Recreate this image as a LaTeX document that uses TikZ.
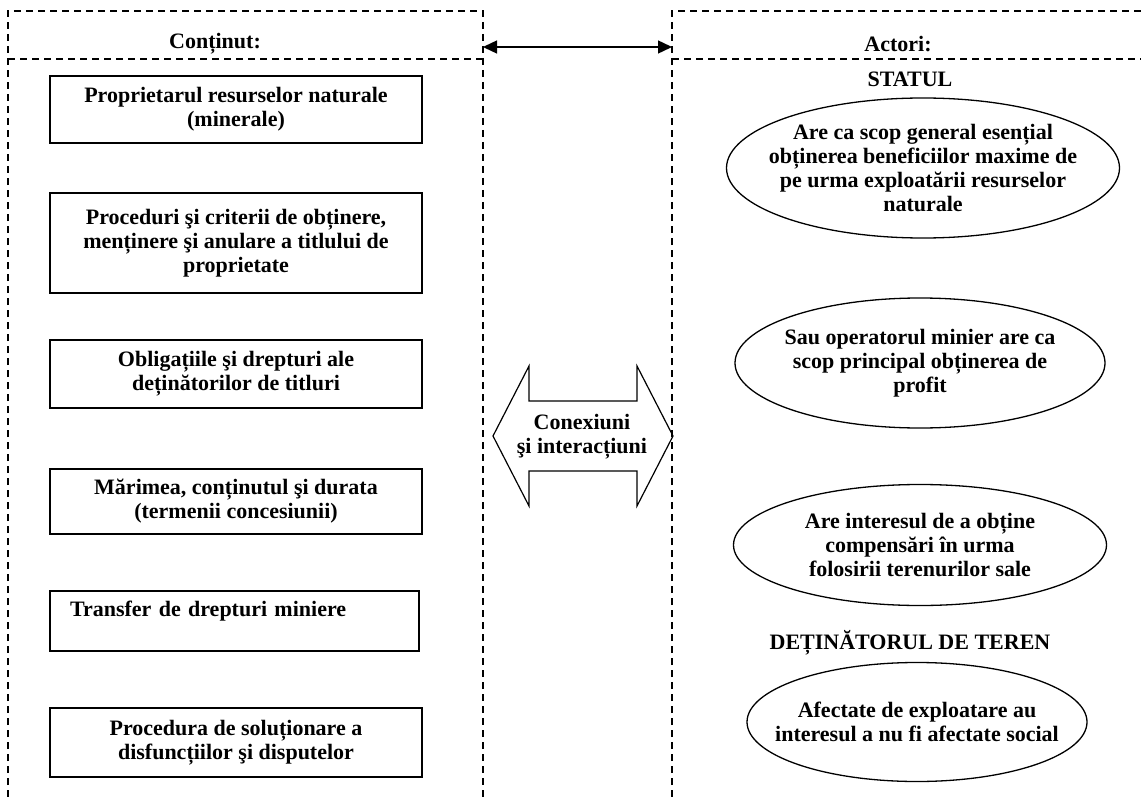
\documentclass[tikz,border=0pt]{standalone}
\usepackage{fontspec}
\setmainfont{Liberation Serif}
\usetikzlibrary{shapes.geometric,arrows.meta}

\begin{document}
\begin{tikzpicture}[x=1pt, y=-1pt,
        every node/.style={font=\fontsize{22}{24}\selectfont\bfseries},
        caseta/.style={rectangle, draw, line width=1.3pt,
                      minimum width=372pt, align=center, inner sep=0pt},
        elipsa/.style={ellipse, draw, line width=1.3pt, align=center,
                      inner xsep=-60pt, inner ysep=-20pt},
        cadru/.style={dash pattern=on 7pt off 5pt, line width=1.4pt},
        arrow/.style={{Triangle[length=14pt,width=13pt]}-{Triangle[length=14pt,width=13pt]},
                      line width=1.4pt}
    ]
    \useasboundingbox (0,0) rectangle (1141,797);

        % Cadrele punctate
        \draw[cadru] (8,797) -- (8,11) -- (483,11) -- (483,797);
        \draw[cadru] (8,59) -- (483,59);
        \draw[cadru] (672,797) -- (672,11) -- (1141,11);
        \draw[cadru] (672,59) -- (1141,59);

        \node (continut) at (215,44) {Conținut:};
        \node (actori) at (898,44) {Actori:};
        \coordinate (margineStg) at (483,47);
        \coordinate (margineDr) at (672,47);
        \draw[arrow] (margineStg) -- (margineDr);

        % Casetele din stanga
        \node[caseta, minimum height=67pt] (caseta1) at (236,109.5) {Proprietarul resurselor naturale\\(minerale)};
        \node[caseta, minimum height=100pt] (caseta2) at (236,243) {Proceduri şi criterii de obținere,\\menținere şi anulare a titlului de\\proprietate};
        \node[caseta, minimum height=68pt] (caseta3) at (236,374) {Obligațiile şi drepturi ale\\deținătorilor de titluri};
        \node[caseta, minimum height=65pt] (caseta4) at (236,501.5) {Mărimea, conținutul şi durata\\(termenii concesiunii)};
        \node[caseta, minimum height=60pt, minimum width=369pt, align=left, text width=329pt] (caseta5) at (234.5,621) {Transfer de drepturi miniere\\\mbox{}};
        \node[caseta, minimum height=69pt] (caseta6) at (236,742.5) {Procedura de soluționare a\\disfuncțiilor şi disputelor};

        % Sageata dubla din mijloc
        \draw[line width=1.2pt] (493,436) -- (529,366) -- (529,401) -- (637,401) -- (637,366)
            -- (673,436) -- (637,506) -- (637,471) -- (529,471) -- (529,506) -- cycle;
        \node[align=center] (conexiuni) at (582,437) {Conexiuni\\şi interacțiuni};

        % Actorii din dreapta
        \node (statul) at (910,79) {STATUL};
        \node[elipsa, minimum width=393pt, minimum height=140pt] (elipsa1) at (923,168) {Are ca scop general esențial\\obținerea beneficiilor maxime de\\pe urma exploatării resurselor\\naturale};
        \node[elipsa, minimum width=370pt, minimum height=130pt] (elipsa2) at (920,363) {Sau operatorul minier are ca\\scop principal obținerea de\\profit};
        \node[elipsa, minimum width=373pt, minimum height=121pt] (elipsa3) at (920,545) {Are interesul de a obține\\compensări în urma\\folosirii terenurilor sale};
        \node (detinator) at (910,643) {DEȚINĂTORUL DE TEREN};
        \node[elipsa, minimum width=340pt, minimum height=119pt] (elipsa4) at (917,722) {Afectate de exploatare au\\interesul a nu fi afectate social};

\end{tikzpicture}
\end{document}
